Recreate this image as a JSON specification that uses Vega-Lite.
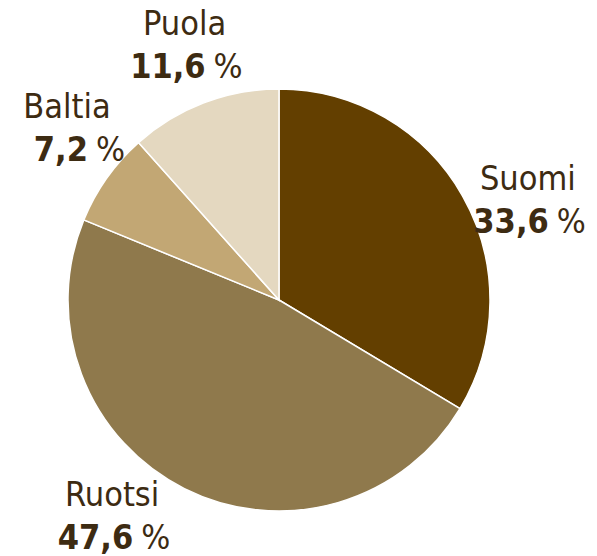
{
  "$schema": "https://vega.github.io/schema/vega-lite/v6.json",
  "autosize": "none",
  "width": 558,
  "height": 512,
  "padding": {"left": 0, "top": 44, "right": 39, "bottom": 0},
  "background": "white",
  "config": {
    "view": {"stroke": null},
    "locale": {"number": {"decimal": ",", "thousands": "\u00a0", "grouping": [3], "currency": ["", " €"]}}
  },
  "data": {
    "values": [
      {"maa": "Suomi", "osuus": 33.6, "jarj": 1},
      {"maa": "Ruotsi", "osuus": 47.6, "jarj": 2},
      {"maa": "Baltia", "osuus": 7.2, "jarj": 3},
      {"maa": "Puola", "osuus": 11.6, "jarj": 4}
    ]
  },
  "resolve": {"scale": {"theta": "independent"}},
  "layer": [
    {
      "mark": {"type": "arc", "radius": 211, "stroke": "white", "strokeWidth": 1.5},
      "encoding": {
        "theta": {"field": "osuus", "type": "quantitative", "stack": true},
        "color": {"field": "maa", "type": "nominal", "legend": null,
          "scale": {"domain": ["Suomi", "Ruotsi", "Baltia", "Puola"], "range": ["#633f00", "#8f794c", "#c2a774", "#e4d8c0"]}},
        "order": {"field": "jarj", "type": "quantitative"}
      }
    },
    {
      "mark": {"type": "text", "radius": 271, "dy": -20, "dx": -3, "font": "DejaVu Sans Condensed", "fontSize": 34, "fill": "#3d2b12", "align": "center", "baseline": "middle"},
      "encoding": {
        "theta": {"field": "osuus", "type": "quantitative", "stack": true, "scale": {"type": "pow", "exponent": 0.88, "domain": [0, 100], "range": [-0.1414, 6.2675]}},
        "detail": {"field": "maa", "type": "nominal"},
        "order": {"field": "jarj", "type": "quantitative"},
        "text": {"field": "maa", "type": "nominal"}
      }
    },
    {
      "mark": {"type": "text", "radius": 271, "dy": 23, "dx": 18, "font": "DejaVu Sans Condensed", "fontSize": 34, "fontWeight": "bold", "fill": "#3d2b12", "align": "right", "baseline": "middle"},
      "encoding": {
        "theta": {"field": "osuus", "type": "quantitative", "stack": true, "scale": {"type": "pow", "exponent": 0.88, "domain": [0, 100], "range": [-0.1414, 6.2675]}},
        "detail": {"field": "maa", "type": "nominal"},
        "order": {"field": "jarj", "type": "quantitative"},
        "text": {"field": "osuus", "type": "quantitative", "format": ".1f"}
      }
    },
    {
      "mark": {"type": "text", "radius": 271, "dy": 23, "dx": 26, "font": "DejaVu Sans Condensed", "fontSize": 34, "fill": "#3d2b12", "align": "left", "baseline": "middle"},
      "encoding": {
        "theta": {"field": "osuus", "type": "quantitative", "stack": true, "scale": {"type": "pow", "exponent": 0.88, "domain": [0, 100], "range": [-0.1414, 6.2675]}},
        "detail": {"field": "maa", "type": "nominal"},
        "order": {"field": "jarj", "type": "quantitative"},
        "text": {"value": "%"}
      }
    }
  ]
}
